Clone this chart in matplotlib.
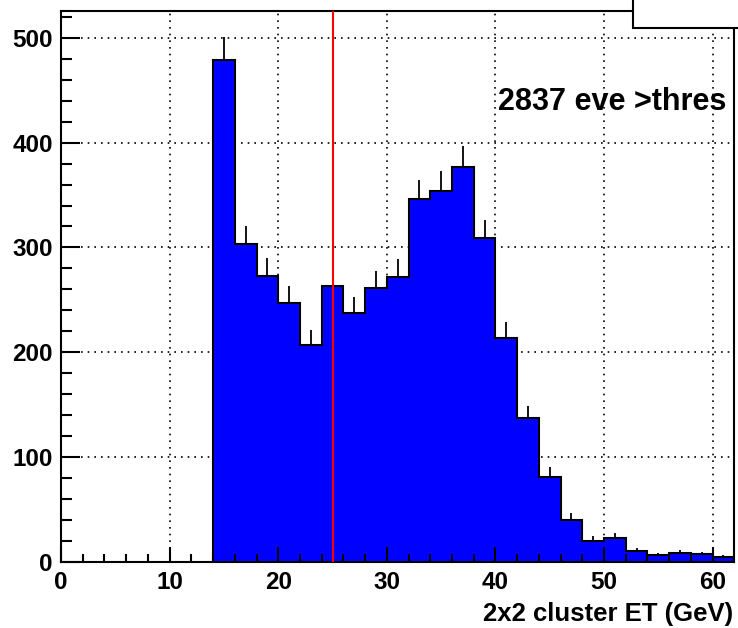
import numpy as np
import matplotlib
matplotlib.use("Agg")
import matplotlib.pyplot as plt
from matplotlib.patches import Rectangle

# bins of 2 GeV starting at 14 GeV
bin_edges = [14, 16, 18, 20, 22, 24, 26, 28, 30, 32, 34, 36, 38, 40,
             42, 44, 46, 48, 50, 52, 54, 56, 58, 60, 62]
counts = [479, 303, 273, 247, 207, 263, 237, 261, 272, 346, 354, 377, 309,
          214, 137, 81, 40, 20, 23, 10, 6, 8, 7, 4]
threshold = 25
label_text = "2837 eve >thres"
x_title = "2x2 cluster ET (GeV)"

plt.rcParams['font.family'] = ['Liberation Sans', 'DejaVu Sans']
plt.rcParams['font.weight'] = 'bold'

fig = plt.figure(figsize=(7.38, 6.28), dpi=100)
ax = fig.add_axes([0.0827, 0.1056, 0.9123, 0.8774])

edges = np.array(bin_edges, dtype=float)
vals = np.array(counts, dtype=float)
centers = 0.5 * (edges[:-1] + edges[1:])

# grid (dotted, behind histogram)
for xv in [10, 20, 30, 40, 50, 60]:
    ax.axvline(xv, color='black', lw=1.2, ls=(0, (1, 3)), zorder=0.5)
for yv in [100, 200, 300, 400, 500]:
    ax.axhline(yv, color='black', lw=1.2, ls=(0, (1, 3)), zorder=0.5)

# histogram
ax.stairs(vals, edges, fill=True, color='#0000ff', zorder=1)
ax.stairs(vals, edges, baseline=0, color='black', lw=1.5, zorder=1.2)
ax.vlines(centers, vals, vals + np.sqrt(vals), color='black', lw=1.3, zorder=1.2)

# threshold line
ax.axvline(threshold, color='red', lw=1.5, zorder=3)

ax.text(40.2, 431, label_text, fontsize=22, fontweight='bold', zorder=4)

ax.set_xlim(0, 62)
ax.set_ylim(0, 526)
ax.set_xticks([0, 10, 20, 30, 40, 50, 60])
ax.set_xticks(np.arange(0, 62, 2), minor=True)
ax.set_yticks([0, 100, 200, 300, 400, 500])
ax.set_yticks(np.arange(0, 526, 20), minor=True)
ax.tick_params(axis='x', which='major', direction='in', length=11, width=1.5,
               labelsize=17.5, pad=7, top=False)
ax.tick_params(axis='x', which='minor', direction='in', length=5.5, width=1.5, top=False)
ax.tick_params(axis='y', which='major', direction='in', length=14, width=1.5,
               labelsize=17.5, pad=6, right=False)
ax.tick_params(axis='y', which='minor', direction='in', length=8, width=1.5, right=False)
for lab in ax.get_xticklabels() + ax.get_yticklabels():
    lab.set_fontweight('bold')
for sp in ax.spines.values():
    sp.set_linewidth(1.5)

fig.text(0.993, 0.0116, x_title, ha='right', va='baseline', fontsize=18.5, fontweight='bold')

# stats/title box in the top right corner
box = Rectangle((0.858, 0.955), 0.2, 0.1, transform=fig.transFigure,
                facecolor='white', edgecolor='black', lw=1.5, zorder=10)
fig.patches.append(box)

fig.savefig("out.png", dpi=100)
